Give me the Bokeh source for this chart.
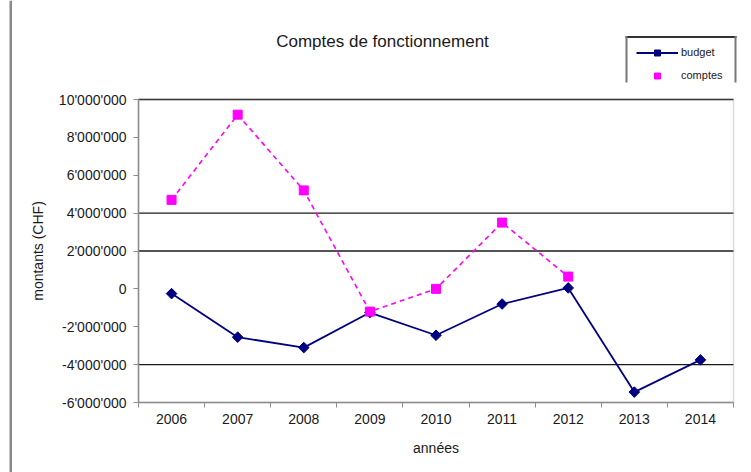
from bokeh.plotting import figure
from bokeh.models import (ColumnDataSource, Range1d, FixedTicker, Label, Legend,
                          LegendItem, BoxAnnotation)
from bokeh.embed import file_html
from bokeh.resources import INLINE

# Operating accounts, in CHF
years = [2006, 2007, 2008, 2009, 2010, 2011, 2012, 2013, 2014]
budget = [-250000, -2550000, -3100000, -1250000, -2450000, -800000, 50000, -5450000, -3750000]
comptes_years = [2006, 2007, 2008, 2009, 2010, 2011, 2012]
comptes = [4700000, 9200000, 5200000, -1200000, 0, 3500000, 650000]

y_ticks = [-6000000, -4000000, -2000000, 0, 2000000, 4000000, 6000000, 8000000, 10000000]
y_tick_labels = ["-6'000'000", "-4'000'000", "-2'000'000", "0", "2'000'000",
                 "4'000'000", "6'000'000", "8'000'000", "10'000'000"]
grid_values = [10000000, 4000000, 2000000, -4000000]
year_bounds = [2005.5, 2006.5, 2007.5, 2008.5, 2009.5, 2010.5, 2011.5, 2012.5, 2013.5, 2014.5]

FONT = "Liberation Sans"
NAVY = "#000080"
MAGENTA = "#FF00FF"
GREY = "#8c8c8c"
W, H = 751, 472

# The frame fills the whole page; the chart area is fenced by axis bounds.
x_lo, x_hi = year_bounds[0], year_bounds[-1]
y_lo, y_hi = y_ticks[0], y_ticks[-1]
px_x = (x_hi - x_lo) / 595.0      # years per pixel
px_y = (y_hi - y_lo) / 303.0      # CHF per pixel
p = figure(width=W, height=H, output_backend="svg", toolbar_location=None,
           x_range=Range1d(x_lo - 138 * px_x, x_hi + 18 * px_x),
           y_range=Range1d(y_lo - 70 * px_y, y_hi + 99 * px_y),
           min_border=0, background_fill_color="white", border_fill_color="white")
p.outline_line_color = None
p.grid.visible = False

# axes, pinned to the chart area's edges
p.yaxis.fixed_location = x_lo
p.yaxis.bounds = (y_lo, y_hi)
p.xaxis.fixed_location = y_lo
p.xaxis.bounds = (x_lo, x_hi)
p.yaxis.ticker = FixedTicker(ticks=y_ticks)
p.yaxis.major_label_overrides = {t: s for t, s in zip(y_ticks, y_tick_labels)}
p.xaxis.ticker = FixedTicker(ticks=years, minor_ticks=year_bounds)
p.xaxis.major_label_overrides = {y: str(y) for y in years}
for ax in (p.xaxis[0], p.yaxis[0]):
    ax.axis_line_color = GREY
    ax.axis_line_width = 1.5
    ax.major_label_text_font = FONT
    ax.major_label_text_font_size = "14px"
    ax.major_label_text_color = "#1a1a1a"
    ax.axis_label_text_font = FONT
    ax.axis_label_text_font_size = "14px"
    ax.axis_label_text_font_style = "normal"
    ax.axis_label_text_color = "#1a1a1a"
p.yaxis.major_tick_line_color = GREY
p.yaxis.major_tick_out = 5
p.yaxis.major_tick_in = 0
p.yaxis.minor_tick_line_color = None
p.yaxis.major_label_standoff = 7
p.yaxis.axis_label = "montants (CHF)"
p.yaxis.axis_label_standoff = 10

p.xaxis.major_tick_line_color = None
p.xaxis.minor_tick_line_color = GREY
p.xaxis.minor_tick_out = 5
p.xaxis.minor_tick_in = 0
p.xaxis.major_label_standoff = 5
p.xaxis.axis_label = "années"
p.xaxis.axis_label_standoff = 13

# chart-area border and horizontal rules
p.add_layout(BoxAnnotation(left=x_lo, right=x_hi, bottom=y_lo, top=y_hi,
                           fill_alpha=0, line_color=GREY, line_width=1.5,
                           level="underlay"))
p.segment(x0=x_lo, x1=x_hi, y0=grid_values, y1=grid_values,
          line_color="#1a1a1a", line_width=1.3, level="underlay")

# series
src_b = ColumnDataSource(dict(x=years, y=budget))
src_c = ColumnDataSource(dict(x=comptes_years, y=comptes))

lb = p.line("x", "y", source=src_b, line_color=NAVY, line_width=1.8)
mb = p.scatter("x", "y", source=src_b, marker="square", angle=0.785398, size=7.5,
               fill_color=NAVY, line_color=NAVY)
lc = p.line("x", "y", source=src_c, line_color=MAGENTA, line_width=1.6, line_dash="5 4")
mc = p.scatter("x", "y", source=src_c, marker="square", size=9,
               fill_color=MAGENTA, line_color=MAGENTA)

# title (screen units from the page's bottom-left corner)
p.add_layout(Label(x=382, y=H - 41, x_units="screen", y_units="screen",
                   text="Comptes de fonctionnement", text_font=FONT,
                   text_font_size="17px", text_align="center",
                   text_baseline="middle", text_color="#1a1a1a"))

# legend
legend = Legend(items=[LegendItem(label="budget", renderers=[lb, mb]),
                       LegendItem(label="comptes", renderers=[mc])],
                location=(636, H - 82.5), orientation="vertical",
                glyph_width=42, glyph_height=15, label_height=15, spacing=8,
                padding=4, margin=0, label_standoff=3,
                label_text_font=FONT, label_text_font_size="11px",
                label_text_color="#1a1a1a", border_line_color=None,
                background_fill_alpha=0)
p.add_layout(legend, "center")

# open legend frame and the page's left rule
def rule(left, right, top, bottom, color):
    p.add_layout(BoxAnnotation(left=left, right=right, top=H - top, bottom=H - bottom,
                               left_units="screen", right_units="screen",
                               top_units="screen", bottom_units="screen",
                               fill_color=color, fill_alpha=1, line_color=None))

rule(625, 736, 35.5, 37.5, "#333333")
rule(625, 627, 35.5, 82, "#777777")
rule(734, 736, 35.5, 82, "#777777")
rule(9, 11.5, 0, H, "#888888")

open("out.html", "w").write(file_html(p, INLINE))
